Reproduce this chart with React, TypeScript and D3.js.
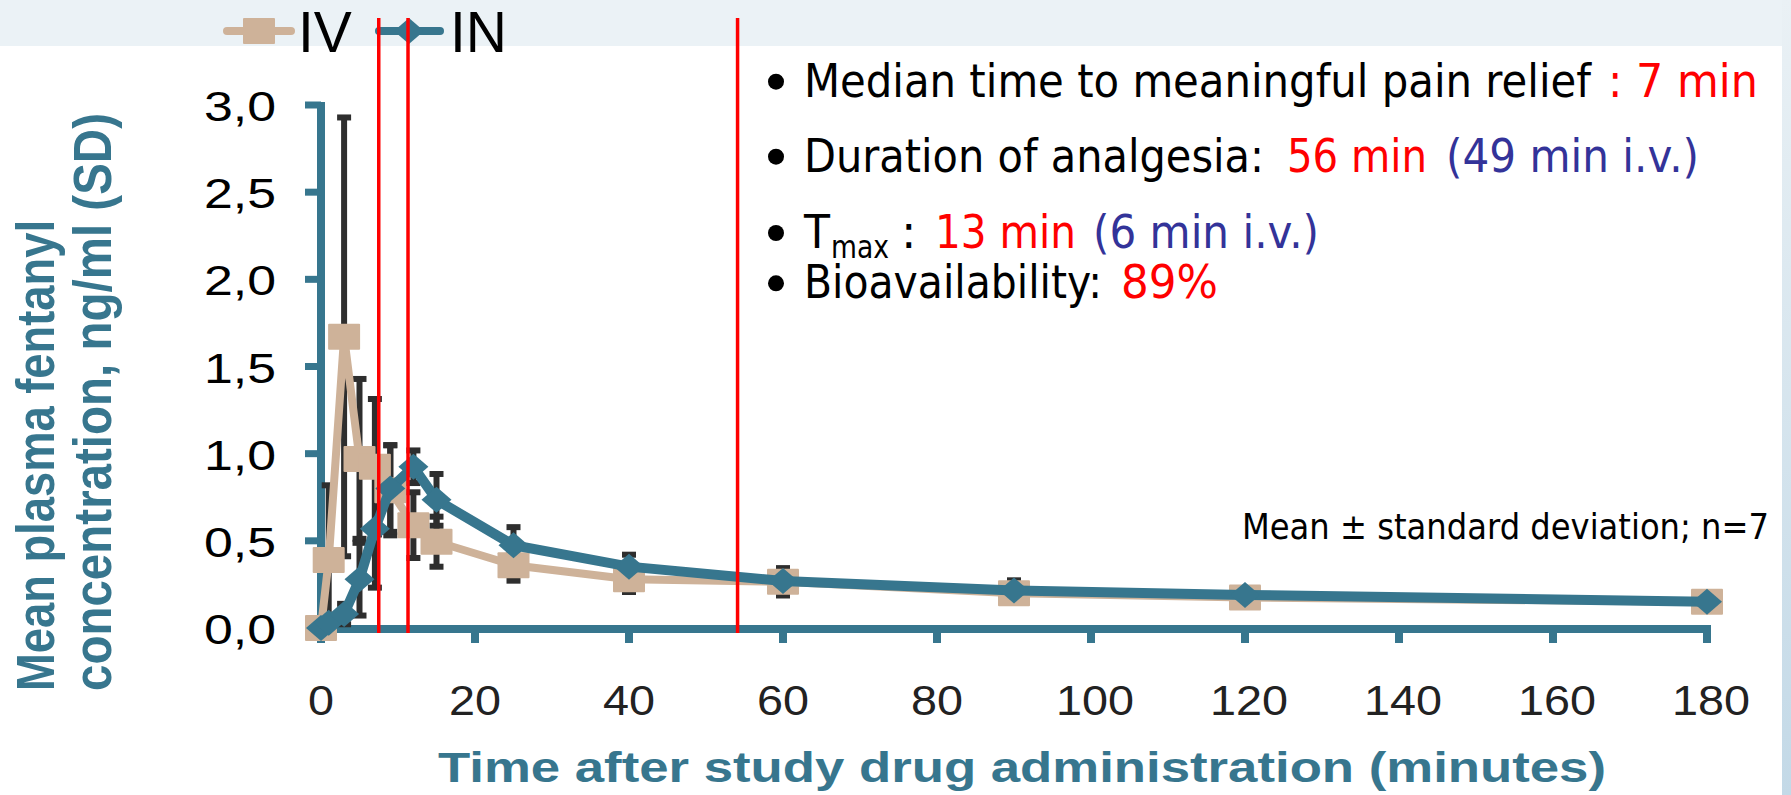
import React from "react";
import * as d3 from "d3";

// ---- data ----
const times = [0, 1, 3, 5, 7, 9, 12, 15, 25, 40, 60, 90, 120, 180];
const ivMean = [0, 0.39, 1.67, 0.97, 0.925, 0.79, 0.59, 0.495, 0.36, 0.28, 0.265, 0.2, 0.175, 0.15];
const ivSD = [0, 0.44, 1.27, 0.47, 0.4, 0.27, 0.2, 0.155, 0.1, 0.085, 0.09, 0.05, 0.04, 0.04];
const inMean = [0, 0.03, 0.08, 0.28, 0.57, 0.8, 0.925, 0.735, 0.475, 0.352, 0.27, 0.215, 0.19, 0.15];
const inSD = [0, 0.03, 0.07, 0.22, 0.35, 0.26, 0.105, 0.16, 0.115, 0.08, 0.075, 0.07, 0.04, 0.04];
const redLines = [7.5, 11.3, 54.1];
const xTicks = [0, 20, 40, 60, 80, 100, 120, 140, 160, 180];
const yTicks = [0, 0.5, 1, 1.5, 2, 2.5, 3];
const yTickLabels = ["0,0", "0,5", "1,0", "1,5", "2,0", "2,5", "3,0"];
const seriesNames = ["IV", "IN"];
const yTitle = ["Mean plasma fentanyl", "concentration, ng/ml (SD)"];
const xTitle = "Time after study drug administration (minutes)";
const note = "Mean \u00b1 standard deviation; n=7";

const TEAL = "#37768E";
const TAN = "#CEB299";
const BAR = "#2E2E2E";
const RED = "#FF0000";
const BLUE = "#333399";

export default function App() {
  const x = d3.scaleLinear().domain([0, 180]).range([321, 1707]);
  const y = d3.scaleLinear().domain([0, 3]).range([628, 105]);
  const line = d3
    .line<number>()
    .x((_, i) => x(times[i]))
    .y((d) => y(d));

  const errBars = (means: number[], sds: number[], key: string) =>
    means.map((m, i) => {
      if (sds[i] <= 0) return null;
      const cx = x(times[i]);
      const y1 = y(m + sds[i]);
      const y2 = y(m - sds[i]);
      return (
        <g key={key + i} stroke={BAR} strokeWidth={6}>
          <line x1={cx} x2={cx} y1={y1} y2={y2} />
          <line x1={cx - 7} x2={cx + 7} y1={y1 + 2} y2={y1 + 2} />
          <line x1={cx - 7} x2={cx + 7} y1={y2 - 2} y2={y2 - 2} />
        </g>
      );
    });

  const diamond = (cx: number, cy: number) =>
    `M${cx},${cy - 13}L${cx + 15},${cy}L${cx},${cy + 13}L${cx - 15},${cy}Z`;

  const bodyFont = "'DejaVu Sans', Verdana, sans-serif";
  const arial = "'Liberation Sans', Arial, sans-serif";

  return (
    <svg
      width={1791}
      height={795}
      style={{ position: "absolute", left: 0, top: 0, background: "#fff" }}
    >
      <defs>
        <linearGradient id="rb" x1="0" y1="0" x2="0" y2="1">
          <stop offset="0" stopColor="#EAF1F5" />
          <stop offset="1" stopColor="#C3D9E7" />
        </linearGradient>
      </defs>
      <rect x={0} y={0} width={1791} height={795} fill="#fff" />
      <rect x={0} y={0} width={1791} height={46} fill="#EBF2F6" />
      <rect x={1782} y={0} width={9} height={795} fill="url(#rb)" />

      {/* axes */}
      <line x1={321} x2={321} y1={102} y2={643} stroke={TEAL} strokeWidth={8} />
      {yTicks.map((t) => (
        <line key={"yt" + t} x1={305} x2={321} y1={y(t)} y2={y(t)} stroke={TEAL} strokeWidth={7} />
      ))}
      <line x1={317} x2={1711} y1={629} y2={629} stroke={TEAL} strokeWidth={8} />
      {xTicks.map((t) => (
        <line key={"xt" + t} x1={x(t)} x2={x(t)} y1={629} y2={643} stroke={TEAL} strokeWidth={8} />
      ))}

      {/* tick labels */}
      {yTicks.map((t, i) => (
        <text
          key={"yl" + t}
          x={276}
          y={y(t) + 16}
          textAnchor="end"
          fontFamily={arial}
          fontSize={42}
          fill="#000"
          textLength={72}
          lengthAdjust="spacingAndGlyphs"
        >
          {yTickLabels[i]}
        </text>
      ))}
      {xTicks.map((t) => {
        const s = String(t);
        return (
          <text
            key={"xl" + t}
            x={x(t) + (s.length === 3 ? 4 : 0)}
            y={715}
            textAnchor="middle"
            fontFamily={arial}
            fontSize={42}
            fill="#222"
            textLength={s.length * 26}
            lengthAdjust="spacingAndGlyphs"
          >
            {s}
          </text>
        );
      })}

      {/* axis titles */}
      {yTitle.map((t, i) => (
        <text
          key={"ytl" + i}
          transform={`translate(${i === 0 ? 54 : 111},691) scale(1.2,1) rotate(-90)`}
          fontFamily={arial}
          fontWeight="bold"
          fontSize={44}
          fill={TEAL}
          textLength={i === 0 ? 471 : 578}
          lengthAdjust="spacingAndGlyphs"
        >
          {t}
        </text>
      ))}
      <text
        x={438}
        y={782}
        fontFamily={arial}
        fontWeight="bold"
        fontSize={42}
        fill={TEAL}
        textLength={1168}
        lengthAdjust="spacingAndGlyphs"
      >
        {xTitle}
      </text>

      {/* error bars */}
      {errBars(ivMean, ivSD, "iv")}
      {errBars(inMean, inSD, "in")}

      {/* IV series */}
      <path d={line(ivMean) || ""} fill="none" stroke={TAN} strokeWidth={8} />
      {ivMean.map((m, i) => (
        <rect key={"ivm" + i} x={x(times[i]) - 16} y={y(m) - 13} width={32} height={26} fill={TAN} rx={1} />
      ))}

      {/* IN series */}
      <path d={line(inMean) || ""} fill="none" stroke={TEAL} strokeWidth={10} />
      {inMean.map((m, i) => (
        <path key={"inm" + i} d={diamond(x(times[i]), y(m))} fill={TEAL} />
      ))}

      {/* legend */}
      <line x1={227} x2={291} y1={31} y2={31} stroke={TAN} strokeWidth={8} strokeLinecap="round" />
      <rect x={243} y={18} width={32} height={26} fill={TAN} rx={1} />
      <text x={298} y={52} fontFamily={arial} fontSize={57} fill="#000">
        {seriesNames[0]}
      </text>
      <line x1={379} x2={440} y1={31} y2={31} stroke={TEAL} strokeWidth={8} strokeLinecap="round" />
      <path d={diamond(409, 31)} fill={TEAL} />
      <text x={450} y={52} fontFamily={arial} fontSize={57} fill="#000">
        {seriesNames[1]}
      </text>

      {/* red reference lines */}
      {redLines.map((t) => (
        <line key={"rl" + t} x1={x(t)} x2={x(t)} y1={18} y2={633} stroke={RED} strokeWidth={3.5} />
      ))}

      {/* annotation bullets */}
      <g fontFamily={bodyFont} fontSize={46}>
        {[96.7, 171.7, 248, 298.3].map((b, i) => (
          <circle key={"bul" + i} cx={776} cy={b - 15} r={8} fill="#000" />
        ))}
        <text x={804} y={96.7} fill="#000" textLength={787} lengthAdjust="spacingAndGlyphs">
          Median time to meaningful pain relief
        </text>
        <text x={1608} y={96.7} fill={RED} textLength={150} lengthAdjust="spacingAndGlyphs">
          : 7 min
        </text>

        <text x={804} y={171.7} fill="#000" textLength={460} lengthAdjust="spacingAndGlyphs">
          Duration of analgesia:
        </text>
        <text x={1287} y={171.7} fill={RED} textLength={140} lengthAdjust="spacingAndGlyphs">
          56 min
        </text>
        <text x={1446} y={171.7} fill={BLUE} textLength={253} lengthAdjust="spacingAndGlyphs">
          (49 min i.v.)
        </text>

        <text x={804} y={248} fill="#000" textLength={26} lengthAdjust="spacingAndGlyphs">
          T
        </text>
        <text x={831} y={258} fill="#000" fontSize={32} textLength={58} lengthAdjust="spacingAndGlyphs">
          max
        </text>
        <text x={901} y={248} fill="#000">
          :
        </text>
        <text x={935} y={248} fill={RED} textLength={141} lengthAdjust="spacingAndGlyphs">
          13 min
        </text>
        <text x={1093} y={248} fill={BLUE} textLength={226} lengthAdjust="spacingAndGlyphs">
          (6 min i.v.)
        </text>

        <text x={804} y={298.3} fill="#000" textLength={298} lengthAdjust="spacingAndGlyphs">
          Bioavailability:
        </text>
        <text x={1121} y={298.3} fill={RED} textLength={97} lengthAdjust="spacingAndGlyphs">
          89%
        </text>
      </g>

      <text
        x={1242}
        y={539}
        fontFamily={bodyFont}
        fontSize={35}
        fill="#000"
        textLength={527}
        lengthAdjust="spacingAndGlyphs"
      >
        {note}
      </text>
    </svg>
  );
}
